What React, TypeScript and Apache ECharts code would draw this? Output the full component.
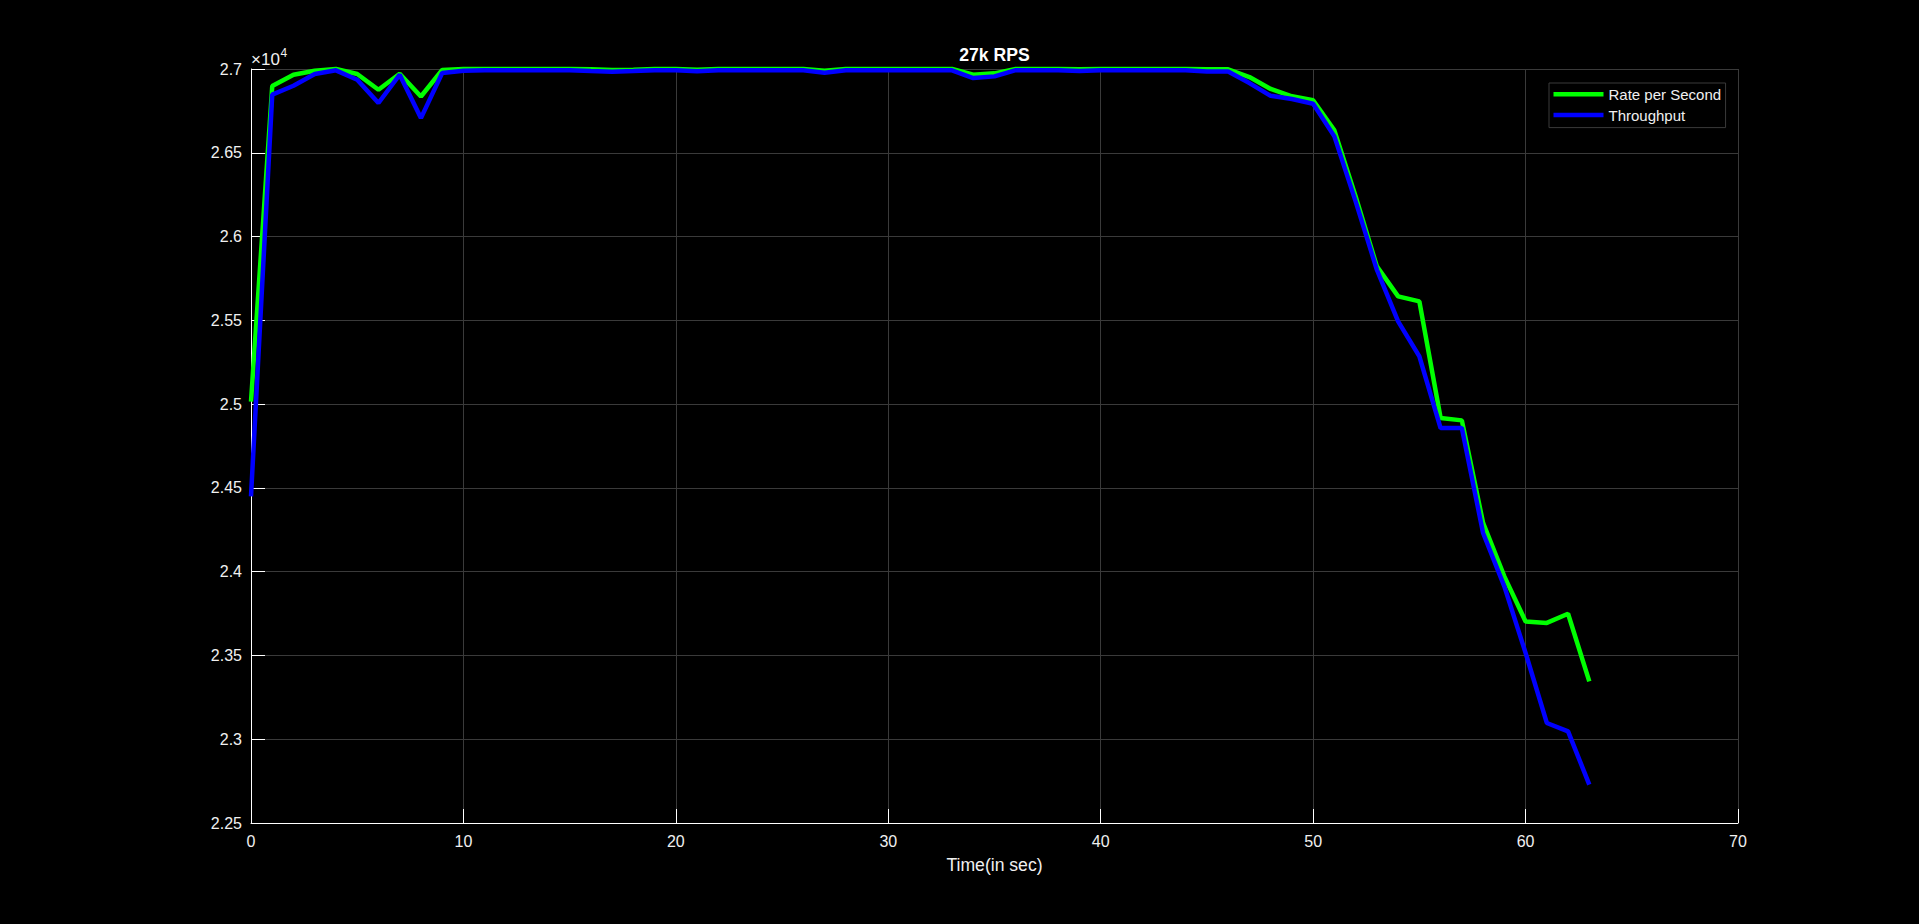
import React, { useEffect, useRef } from "react";
import * as echarts from "echarts";

const timeSec = [
  0, 1, 2, 3, 4, 5, 6, 7, 8, 9, 10, 11, 12, 13, 14, 15, 16, 17, 18, 19, 20, 21,
  22, 23, 24, 25, 26, 27, 28, 29, 30, 31, 32, 33, 34, 35, 36, 37, 38, 39, 40, 41,
  42, 43, 44, 45, 46, 47, 48, 49, 50, 51, 52, 53, 54, 55, 56, 57, 58, 59, 60, 61,
  62, 63,
];

const ratePerSecond = [
  25015, 26898, 26966, 26990, 27000, 26970, 26876, 26972, 26836, 26994, 27000,
  27000, 27000, 27000, 27000, 27000, 26998, 26994, 26996, 27000, 27000, 26996,
  27000, 27000, 27000, 27000, 27000, 26990, 27000, 27000, 27000, 27000, 27000,
  27000, 26966, 26974, 27000, 27000, 27000, 26998, 27000, 27000, 27000, 27000,
  27000, 26998, 26998, 26952, 26881, 26837, 26813, 26634, 26240, 25822, 25643,
  25613, 24917, 24903, 24291, 23972, 23703, 23694, 23749, 23345,
];

const throughput = [
  24450, 26847, 26900, 26970, 26992, 26936, 26797, 26966, 26707, 26976, 26990,
  26993, 26993, 26993, 26993, 26993, 26988, 26984, 26988, 26993, 26993, 26987,
  26993, 26992, 26993, 26993, 26992, 26978, 26992, 26993, 26993, 26993, 26993,
  26992, 26946, 26956, 26993, 26993, 26992, 26988, 26993, 26993, 26993, 26993,
  26993, 26985, 26985, 26916, 26840, 26821, 26793, 26598, 26210, 25802, 25494,
  25285, 24857, 24857, 24231, 23912, 23515, 23097, 23047, 22729,
];

const seriesNames = ["Rate per Second", "Throughput"];
const titleText = "27k RPS";
const xAxisName = "Time(in sec)";

const FONT = "'Liberation Sans', Arial, Helvetica, sans-serif";
const TEXT = "#f0f0f0";
const GRIDC = "#3a3a3a";

export default function App() {
  const ref = useRef<HTMLDivElement>(null);

  useEffect(() => {
    document.body.style.margin = "0";
    document.body.style.background = "#000";
    const chart = echarts.init(ref.current!, null, { renderer: "svg" });
    const gridLeft = 251;
    const gridRight = 181;
    const plotCenter = gridLeft + (1919 - gridLeft - gridRight) / 2;

    chart.setOption({
      animation: false,
      backgroundColor: "#000000",
      textStyle: { fontFamily: FONT },
      grid: { left: gridLeft, right: gridRight, top: 69, bottom: 101, containLabel: false },
      legend: {
        orient: "vertical",
        left: 1549,
        top: 83,
        data: seriesNames,
        icon: "rect",
        itemWidth: 50,
        itemHeight: 4.5,
        itemGap: 3.7,
        padding: [2.8, 4.5, 4.1, 4.5],
        backgroundColor: "#000000",
        borderColor: "#3a3a3a",
        borderWidth: 1,
        borderRadius: 0,
        textStyle: { color: TEXT, fontSize: 15, fontFamily: FONT, lineHeight: 17 },
      },
      xAxis: {
        type: "value",
        min: 0,
        max: 70,
        interval: 10,
        name: xAxisName,
        nameLocation: "middle",
        nameGap: 33,
        nameTextStyle: { color: TEXT, fontSize: 17.6, fontFamily: FONT },
        axisLine: { show: true, onZero: false, lineStyle: { color: "#ffffff", width: 1 } },
        axisTick: { show: true, inside: true, length: 14, lineStyle: { color: "#ffffff" } },
        axisLabel: { color: TEXT, fontSize: 16, fontFamily: FONT, margin: 10 },
        splitLine: { show: true, lineStyle: { color: GRIDC, width: 1 } },
      },
      yAxis: {
        type: "value",
        min: 22500,
        max: 27000,
        interval: 500,
        axisLine: { show: true, lineStyle: { color: "#ffffff", width: 1 } },
        axisTick: { show: true, inside: true, length: 14, lineStyle: { color: "#ffffff" } },
        axisLabel: {
          color: TEXT,
          fontSize: 16,
          fontFamily: FONT,
          margin: 9,
          formatter: (v: number) => String(Math.round(v) / 10000),
        },
        splitLine: { show: true, lineStyle: { color: GRIDC, width: 1 } },
      },
      series: [
        {
          name: seriesNames[0],
          type: "line",
          data: timeSec.map((t, i) => [t, ratePerSecond[i]]),
          showSymbol: false,
          symbol: "none",
          clip: false,
          color: "#00ff00",
          lineStyle: { color: "#00ff00", width: 4.5 },
          z: 2,
        },
        {
          name: seriesNames[1],
          type: "line",
          data: timeSec.map((t, i) => [t, throughput[i]]),
          showSymbol: false,
          symbol: "none",
          clip: false,
          color: "#0000ff",
          lineStyle: { color: "#0000ff", width: 4.5 },
          z: 3,
        },
      ],
      graphic: [
        {
          type: "text",
          x: plotCenter,
          y: 54.5,
          style: {
            text: titleText,
            fill: "#ffffff",
            font: `bold 17.6px ${FONT}`,
            align: "center",
            verticalAlign: "middle",
          },
        },
        {
          type: "text",
          x: 251,
          y: 59.5,
          style: {
            text: "×10",
            fill: TEXT,
            font: `17px ${FONT}`,
            align: "left",
            verticalAlign: "middle",
          },
        },
        {
          type: "text",
          x: 280.5,
          y: 52.5,
          style: {
            text: "4",
            fill: TEXT,
            font: `12px ${FONT}`,
            align: "left",
            verticalAlign: "middle",
          },
        },
      ],
    });

    return () => chart.dispose();
  }, []);

  return (
    <div
      ref={ref}
      style={{ position: "fixed", left: 0, top: 0, width: 1919, height: 924, background: "#000" }}
    />
  );
}
